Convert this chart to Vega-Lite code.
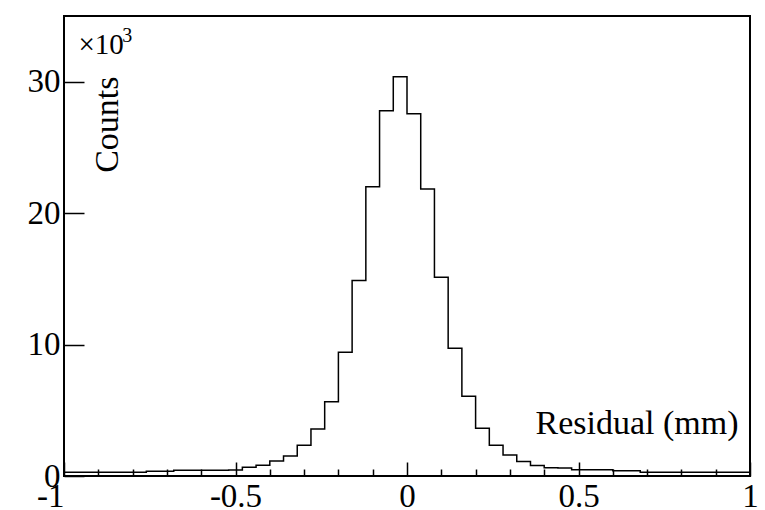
{
  "$schema": "https://vega.github.io/schema/vega-lite/v6.json",
  "width": 686,
  "height": 460,
  "autosize": {"type": "none"},
  "padding": {"left": 64, "top": 16, "right": 15, "bottom": 34},
  "background": "white",
  "config": {
    "view": {"stroke": "black", "strokeWidth": 2, "fill": "white"},
    "font": "Liberation Serif",
    "axis": {"grid": false, "domain": false, "tickColor": "black", "tickWidth": 1.5, "labelColor": "black", "titleColor": "black", "labelFont": "Liberation Serif", "titleFont": "Liberation Serif", "titleFontWeight": "normal"}
  },
  "data": {
    "values": [
      {"x": -1.00, "count": 280},
      {"x": -0.96, "count": 280},
      {"x": -0.92, "count": 280},
      {"x": -0.88, "count": 280},
      {"x": -0.84, "count": 280},
      {"x": -0.80, "count": 280},
      {"x": -0.76, "count": 360},
      {"x": -0.72, "count": 360},
      {"x": -0.68, "count": 430},
      {"x": -0.64, "count": 430},
      {"x": -0.60, "count": 430},
      {"x": -0.56, "count": 430},
      {"x": -0.52, "count": 450},
      {"x": -0.48, "count": 660},
      {"x": -0.44, "count": 810},
      {"x": -0.40, "count": 1140},
      {"x": -0.36, "count": 1520},
      {"x": -0.32, "count": 2340},
      {"x": -0.28, "count": 3580},
      {"x": -0.24, "count": 5640},
      {"x": -0.20, "count": 9420},
      {"x": -0.16, "count": 14870},
      {"x": -0.12, "count": 22000},
      {"x": -0.08, "count": 27800},
      {"x": -0.04, "count": 30370},
      {"x": 0.00, "count": 27570},
      {"x": 0.04, "count": 21830},
      {"x": 0.08, "count": 15130},
      {"x": 0.12, "count": 9720},
      {"x": 0.16, "count": 6070},
      {"x": 0.20, "count": 3630},
      {"x": 0.24, "count": 2340},
      {"x": 0.28, "count": 1600},
      {"x": 0.32, "count": 1100},
      {"x": 0.36, "count": 800},
      {"x": 0.40, "count": 630},
      {"x": 0.44, "count": 610},
      {"x": 0.48, "count": 480},
      {"x": 0.52, "count": 480},
      {"x": 0.56, "count": 480},
      {"x": 0.60, "count": 400},
      {"x": 0.64, "count": 400},
      {"x": 0.68, "count": 280},
      {"x": 0.72, "count": 280},
      {"x": 0.76, "count": 280},
      {"x": 0.80, "count": 280},
      {"x": 0.84, "count": 280},
      {"x": 0.88, "count": 280},
      {"x": 0.92, "count": 280},
      {"x": 0.96, "count": 280},
      {"x": 1.00, "count": 280}
    ]
  },
  "layer": [
    {
      "mark": {"type": "line", "interpolate": "step-after", "color": "black", "strokeWidth": 1.5},
      "encoding": {
        "x": {
          "field": "x", "type": "quantitative",
          "scale": {"domain": [-1, 1], "nice": false, "zero": false},
          "axis": {
            "orient": "bottom",
            "values": [-1, -0.5, 0, 0.5, 1],
            "tickSize": -14,
            "labelExpr": "'' + datum.value",
            "labelFontSize": 33,
            "labelPadding": 18,
            "labelBaseline": "top",
            "labelAlign": {"condition": {"test": "datum.value == -1", "value": "right"}, "value": "center"},
            "labelFlush": false,
            "labelOverlap": false,
            "title": "Residual (mm)",
            "titleFontSize": 34,
            "titleAnchor": "end",
            "titleAlign": "right",
            "titleBaseline": "alphabetic",
            "titleX": 674,
            "titleY": -43
          }
        },
        "y": {
          "field": "count", "type": "quantitative",
          "scale": {"domain": [0, 35000], "nice": false},
          "axis": {
            "values": [0, 10000, 20000, 30000],
            "tickSize": -20,
            "labelExpr": "format(datum.value / 1000, 'd')",
            "labelFontSize": 33,
            "labelPadding": 24,
            "labelBaseline": "middle",
            "labelFlush": false,
            "labelOverlap": false,
            "title": "Counts",
            "titleFontSize": 34,
            "titleAngle": -90,
            "titleAlign": "right",
            "titleBaseline": "alphabetic",
            "titleX": 53,
            "titleY": 60
          }
        }
      }
    },
    {
      "mark": {"type": "point", "opacity": 0},
      "encoding": {
        "x": {
          "field": "x", "type": "quantitative",
          "axis": {
            "orient": "bottom",
            "values": [-0.9, -0.8, -0.7, -0.6, -0.4, -0.3, -0.2, -0.1, 0.1, 0.2, 0.3, 0.4, 0.6, 0.7, 0.8, 0.9],
            "tickSize": -7,
            "labels": false,
            "title": null
          }
        },
        "y": {"field": "count", "type": "quantitative"}
      }
    },
    {
      "data": {"values": [{"note": "×10"}]},
      "mark": {"type": "text", "align": "left", "baseline": "alphabetic", "fontSize": 29, "font": "Liberation Serif", "color": "black"},
      "encoding": {
        "x": {"datum": -0.958, "type": "quantitative", "axis": null},
        "y": {"datum": 32140, "type": "quantitative"},
        "text": {"field": "note"}
      }
    },
    {
      "data": {"values": [{"note": "3"}]},
      "mark": {"type": "text", "align": "left", "baseline": "alphabetic", "fontSize": 20, "font": "Liberation Serif", "color": "black"},
      "encoding": {
        "x": {"datum": -0.83, "type": "quantitative", "axis": null},
        "y": {"datum": 33030, "type": "quantitative"},
        "text": {"field": "note"}
      }
    }
  ],
  "resolve": {"axis": {"x": "independent"}}
}
